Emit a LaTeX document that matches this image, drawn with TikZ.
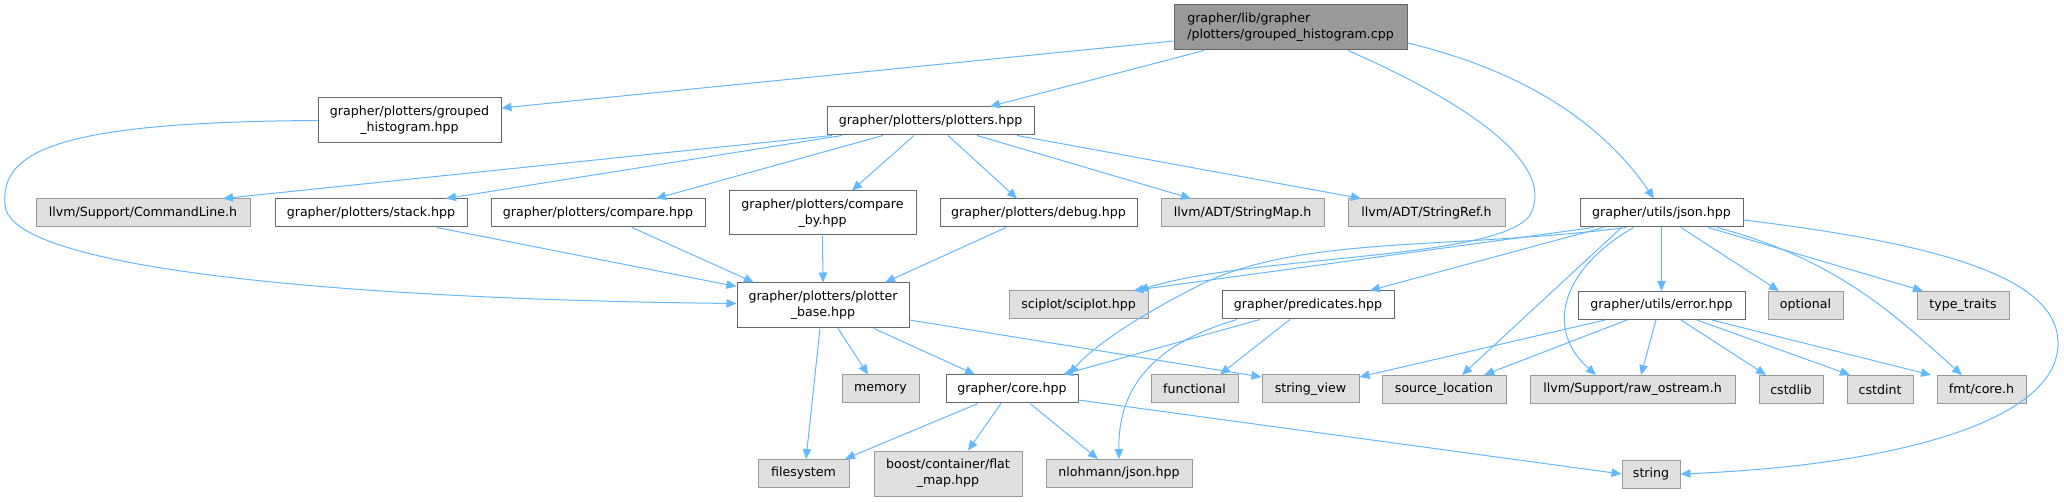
\documentclass[tikz,border=0pt]{standalone}
\usepackage{fontspec}
\setmainfont{DejaVu Sans}
\usetikzlibrary{arrows.meta}

\definecolor{edgeblue}{HTML}{63B8FF}
\definecolor{hdrline}{HTML}{666666}
\definecolor{sysline}{HTML}{999999}
\definecolor{sysfill}{HTML}{E0E0E0}
\definecolor{srcfill}{HTML}{999999}

\begin{document}
\begin{tikzpicture}[x=1pt, y=-1pt,
	every node/.style={font=\fontsize{12.6}{16}\selectfont, inner sep=0pt},
	hdr/.style={draw=hdrline, fill=white, line width=1pt, minimum height=28pt},
	sys/.style={draw=sysline, fill=sysfill, line width=1pt, minimum height=28pt},
	src/.style={draw=hdrline, fill=srcfill, line width=1pt, minimum height=45pt, align=left},
	dep/.style={draw=edgeblue, line width=1pt, -{Triangle[length=10pt, width=8.5pt]}}]
			
			\useasboundingbox (0,0) rectangle (2064,502);
			
			% Source file
			\node[src, minimum width=233pt] (cpp) at (1290.5, 27.5) {grapher/lib/grapher\\/plotters/grouped\_histogram.cpp};
			
			% Row 1
			\node[hdr, minimum width=183pt, minimum height=45pt, align=center] (ghist) at (409.5, 120.5) {grapher/plotters/grouped\\\_histogram.hpp};
			\node[hdr, minimum width=207pt] (plotters) at (930.5, 121) {grapher/plotters/plotters.hpp};
			
			% Row 2
			\node[sys, minimum width=214pt] (cmdline) at (143, 213) {llvm/Support/CommandLine.h};
			\node[hdr, minimum width=192pt] (stack) at (371, 213) {grapher/plotters/stack.hpp};
			\node[hdr, minimum width=214pt] (compare) at (598, 213) {grapher/plotters/compare.hpp};
			\node[hdr, minimum width=187pt, minimum height=44pt, align=center] (compareby) at (822.5, 213) {grapher/plotters/compare\\\_by.hpp};
			\node[hdr, minimum width=197pt] (debug) at (1038.5, 213) {grapher/plotters/debug.hpp};
			\node[sys, minimum width=163pt] (strmap) at (1242.5, 213) {llvm/ADT/StringMap.h};
			\node[sys, minimum width=157pt] (strref) at (1426.5, 213) {llvm/ADT/StringRef.h};
			\node[hdr, minimum width=163pt] (json) at (1661.5, 213) {grapher/utils/json.hpp};
			
			% Row 3
			\node[hdr, minimum width=172pt, minimum height=45pt, align=center] (base) at (823, 305.5) {grapher/plotters/plotter\\\_base.hpp};
			\node[sys, minimum width=139pt] (sciplot) at (1078.5, 305) {sciplot/sciplot.hpp};
			\node[hdr, minimum width=172pt] (preds) at (1308, 305) {grapher/predicates.hpp};
			\node[hdr, minimum width=167pt] (error) at (1661.5, 305.5) {grapher/utils/error.hpp};
			\node[sys, minimum width=75pt] (optional) at (1805.5, 305.5) {optional};
			\node[sys, minimum width=92pt] (traits) at (1963, 305.5) {type\_traits};
			
			% Row 4
			\node[sys, minimum width=77pt] (memory) at (880.5, 389) {memory};
			\node[hdr, minimum width=132pt] (core) at (1012, 389) {grapher/core.hpp};
			\node[sys, minimum width=87pt] (functional) at (1194.5, 389) {functional};
			\node[sys, minimum width=97pt] (strview) at (1310.5, 389) {string\_view};
			\node[sys, minimum width=124pt] (srcloc) at (1444, 389.5) {source\_location};
			\node[sys, minimum width=205pt] (rawos) at (1632.5, 389.5) {llvm/Support/raw\_ostream.h};
			\node[sys, minimum width=64pt] (cstdlib) at (1791, 389.5) {cstdlib};
			\node[sys, minimum width=66pt] (cstdint) at (1880, 389.5) {cstdint};
			\node[sys, minimum width=89pt] (fmtcore) at (1981.5, 389.5) {fmt/core.h};
			
			% Row 5
			\node[sys, minimum width=91pt] (fs) at (803.5, 473.5) {filesystem};
			\node[sys, minimum width=148pt, minimum height=45pt, align=center] (flatmap) at (948, 473.5) {boost/container/flat\\\_map.hpp};
			\node[sys, minimum width=146pt] (nlohmann) at (1119, 473.5) {nlohmann/json.hpp};
			\node[sys, minimum width=58pt] (string) at (1651, 474) {string};
			
			% Includes of the source file
			\draw[dep] ([yshift=-13.5pt]cpp.west) -- ([yshift=12.5pt]ghist.east);
			\draw[dep] ([xshift=-86.5pt]cpp.south) -- ([xshift=59.5pt]plotters.north);
			\draw[dep] ([yshift=-15.5pt]cpp.east) .. controls (1520,70) and (1600,120) .. ([xshift=-7.5pt]json.north);
			\draw[dep] ([xshift=57.5pt]cpp.south) .. controls (1450,95) and (1560,160) .. (1530,215) .. controls (1500,260) and (1250,255) .. ([xshift=60pt]sciplot.north);
			
			% grouped_histogram.hpp
			\draw[dep] (ghist.west) .. controls (60,122) and (0,150) .. (5,205) .. controls (10,275) and (400,300) .. ([yshift=2pt]base.west);
			
			% plotters.hpp
			\draw[dep] ([xshift=-98.5pt]plotters.south) -- ([xshift=80pt]cmdline.north);
			\draw[dep] ([xshift=-88.5pt]plotters.south) -- ([xshift=75pt]stack.north);
			\draw[dep] ([xshift=-47.5pt]plotters.south) -- ([xshift=58pt]compare.north);
			\draw[dep] ([xshift=-16.5pt]plotters.south) -- ([xshift=29.5pt]compareby.north);
			\draw[dep] ([xshift=17.5pt]plotters.south) -- ([xshift=-21.5pt]debug.north);
			\draw[dep] ([xshift=46.5pt]plotters.south) -- ([xshift=-51.5pt]strmap.north);
			\draw[dep] ([xshift=86.5pt]plotters.south) -- ([xshift=-65.5pt]strref.north);
			
			% Plotters -> plotter_base.hpp
			\draw[dep] ([xshift=66pt]stack.south) -- ([yshift=19pt]base.west);
			\draw[dep] ([xshift=34pt]compare.south) -- ([xshift=-69pt]base.north);
			\draw[dep] (compareby.south) -- (base.north);
			\draw[dep] ([xshift=-32.5pt]debug.south) -- ([xshift=62pt]base.north);
			
			% plotter_base.hpp
			\draw[dep] ([xshift=-3pt]base.south) -- ([xshift=2.5pt]fs.north);
			\draw[dep] ([xshift=15pt]base.south) -- ([xshift=-12.5pt]memory.north);
			\draw[dep] ([xshift=51pt]base.south) -- ([xshift=-37pt]core.north);
			\draw[dep] ([yshift=-14.5pt]base.east) -- ([yshift=12pt]strview.west);
			
			% core.hpp
			\draw[dep] ([xshift=-34pt]core.south) -- ([xshift=41.5pt]fs.north);
			\draw[dep] ([xshift=-11pt]core.south) -- ([xshift=20pt]flatmap.north);
			\draw[dep] ([xshift=18pt]core.south) -- ([xshift=-21pt]nlohmann.north);
			\draw[dep] ([yshift=-11pt]core.east) -- (string.west);
			
			% predicates.hpp
			\draw[dep] ([xshift=-48pt]preds.south) -- ([xshift=51pt]core.north);
			\draw[dep] ([xshift=-71pt]preds.south) .. controls (1150,345) and (1118,390) .. (nlohmann.north);
			\draw[dep] ([xshift=-18pt]preds.south) -- ([xshift=25.5pt]functional.north);
			
			% json.hpp
			\draw[dep] ([xshift=-68pt]json.south) -- ([xshift=55pt]sciplot.north);
			\draw[dep] ([xshift=-58pt]json.south) -- ([xshift=62pt]preds.north);
			\draw[dep] ([xshift=-35pt]json.south) .. controls (1450,250) and (1300,235) .. (1200,285) .. controls (1130,320) and (1090,350) .. ([xshift=57pt]core.north);
			\draw[dep] ([xshift=-40pt]json.south) -- ([xshift=18pt]srcloc.north);
			\draw[dep] ([xshift=-28pt]json.south) .. controls (1560,270) and (1545,330) .. ([xshift=-36.5pt]rawos.north);
			\draw[dep] (json.south) -- (error.north);
			\draw[dep] ([xshift=19.5pt]json.south) -- ([xshift=-26.5pt]optional.north);
			\draw[dep] ([xshift=46.5pt]json.south) -- ([xshift=-40pt]traits.north);
			\draw[dep] ([xshift=55.5pt]json.south) .. controls (1840,260) and (1900,320) .. ([xshift=-19.5pt]fmtcore.north);
			\draw[dep] ([yshift=-7pt]json.east) .. controls (1950,245) and (2060,280) .. (2058,345) .. controls (2056,420) and (1900,465) .. (string.east);
			
			% error.hpp
			\draw[dep] ([xshift=-56.5pt]error.south) -- ([yshift=12pt]strview.east);
			\draw[dep] ([xshift=-34.5pt]error.south) -- ([xshift=40pt]srcloc.north);
			\draw[dep] ([xshift=-5.5pt]error.south) -- ([xshift=8.5pt]rawos.north);
			\draw[dep] ([xshift=19.5pt]error.south) -- ([xshift=-25pt]cstdlib.north);
			\draw[dep] ([xshift=35.5pt]error.south) -- ([xshift=-30pt]cstdint.north);
			\draw[dep] ([xshift=50.5pt]error.south) -- ([xshift=-50.5pt]fmtcore.north);
			
		\end{tikzpicture}
\end{document}
